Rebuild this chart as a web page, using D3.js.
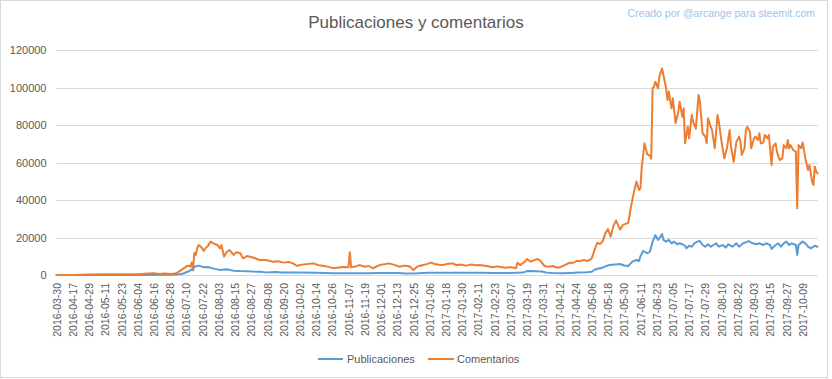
<!DOCTYPE html>
<html><head><meta charset="utf-8">
<script src="https://cdn.jsdelivr.net/npm/d3@7"></script>
<style>
body{margin:0;background:#fff;}
svg{display:block;font-family:"Liberation Sans",Arial,sans-serif;}
</style></head>
<body><svg id="c" width="832" height="379"></svg>
<script>
const title = "Publicaciones y comentarios";
const watermark = "Creado por @arcange para steemit.com";
const seriesNames = ["Publicaciones", "Comentarios"];
const yTicks = [0, 20000, 40000, 60000, 80000, 100000, 120000];
const tickLabels = ["2016-03-30","2016-04-17","2016-04-29","2016-05-11","2016-05-23","2016-06-04","2016-06-16","2016-06-28","2016-07-10","2016-07-22","2016-08-03","2016-08-15","2016-08-27","2016-09-08","2016-09-20","2016-10-02","2016-10-14","2016-10-26","2016-11-07","2016-11-19","2016-12-01","2016-12-13","2016-12-25","2017-01-06","2017-01-18","2017-01-30","2017-02-11","2017-02-23","2017-03-07","2017-03-19","2017-03-31","2017-04-12","2017-04-24","2017-05-06","2017-05-18","2017-05-30","2017-06-11","2017-06-23","2017-07-05","2017-07-17","2017-07-29","2017-08-10","2017-08-22","2017-09-03","2017-09-15","2017-09-27","2017-10-09"];

const publicaciones = [
["2016-03-30",0],["2016-04-17",0],["2016-05-11",30],["2016-06-04",60],["2016-06-28",150],["2016-07-03",200],["2016-07-06",500],["2016-07-08",800],["2016-07-10",1500],["2016-07-12",2000],["2016-07-14",3000],["2016-07-15",2500],["2016-07-16",4400],["2016-07-19",5000],["2016-07-21",4600],["2016-07-23",4100],["2016-07-26",4300],["2016-07-30",3400],["2016-08-02",3000],["2016-08-04",2700],["2016-08-09",3100],["2016-08-12",2600],["2016-08-14",2300],["2016-08-19",2100],["2016-08-24",2000],["2016-08-29",1800],["2016-09-03",1700],["2016-09-07",1400],["2016-09-14",1600],["2016-09-19",1300],["2016-10-02",1300],["2016-10-14",1200],["2016-10-27",900],["2016-11-07",1000],["2016-11-20",900],["2016-12-01",1100],["2016-12-13",1100],["2016-12-20",800],["2016-12-28",900],["2017-01-06",1200],["2017-01-18",1200],["2017-01-30",1200],["2017-02-11",1200],["2017-02-23",1100],["2017-03-07",1100],["2017-03-16",1300],["2017-03-19",2100],["2017-03-26",2000],["2017-03-30",1900],["2017-04-02",1300],["2017-04-08",1000],["2017-04-14",900],["2017-04-20",1100],["2017-04-26",1300],["2017-05-02",1500],["2017-05-06",1700],["2017-05-08",2800],["2017-05-11",3500],["2017-05-14",3900],["2017-05-16",4600],["2017-05-19",5300],["2017-05-23",5600],["2017-05-27",5900],["2017-05-30",5100],["2017-06-02",4800],["2017-06-05",7100],["2017-06-08",8000],["2017-06-10",7500],["2017-06-11",10000],["2017-06-13",12800],["2017-06-16",11600],["2017-06-18",12400],["2017-06-20",17800],["2017-06-22",21300],["2017-06-24",18700],["2017-06-25",19600],["2017-06-27",21900],["2017-06-28",18700],["2017-06-30",17800],["2017-07-02",18700],["2017-07-04",16900],["2017-07-06",17800],["2017-07-08",16400],["2017-07-10",16900],["2017-07-12",16400],["2017-07-14",15600],["2017-07-15",14200],["2017-07-17",15600],["2017-07-19",15100],["2017-07-21",16900],["2017-07-23",17800],["2017-07-25",18100],["2017-07-27",16000],["2017-07-29",15100],["2017-07-31",16400],["2017-08-02",15100],["2017-08-04",16000],["2017-08-06",16900],["2017-08-08",15100],["2017-08-11",16000],["2017-08-13",14600],["2017-08-15",16400],["2017-08-18",15100],["2017-08-21",16900],["2017-08-23",15100],["2017-08-26",16900],["2017-08-28",17400],["2017-08-30",18100],["2017-09-02",16900],["2017-09-05",16400],["2017-09-07",16900],["2017-09-10",16000],["2017-09-12",16900],["2017-09-15",16000],["2017-09-16",13900],["2017-09-19",16000],["2017-09-21",16900],["2017-09-23",15100],["2017-09-25",16900],["2017-09-27",17800],["2017-09-29",16000],["2017-10-01",16900],["2017-10-04",16000],["2017-10-05",10700],["2017-10-06",16000],["2017-10-09",17800],["2017-10-11",16900],["2017-10-13",15100],["2017-10-15",14200],["2017-10-18",15600],["2017-10-20",15100]
];

const comentarios = [
["2016-03-30",0],["2016-04-17",50],["2016-04-29",300],["2016-05-11",400],["2016-05-23",450],["2016-06-04",450],["2016-06-12",800],["2016-06-16",1000],["2016-06-20",600],["2016-06-24",800],["2016-06-28",500],["2016-07-02",800],["2016-07-04",1500],["2016-07-06",2500],["2016-07-08",3500],["2016-07-10",4500],["2016-07-11",5000],["2016-07-13",4500],["2016-07-14",6600],["2016-07-15",3500],["2016-07-16",11700],["2016-07-17",10700],["2016-07-18",14000],["2016-07-19",16000],["2016-07-21",15000],["2016-07-23",12800],["2016-07-24",14200],["2016-07-26",15500],["2016-07-28",17800],["2016-07-30",16900],["2016-08-02",16000],["2016-08-04",14200],["2016-08-05",16000],["2016-08-07",9800],["2016-08-09",12400],["2016-08-11",13300],["2016-08-14",10700],["2016-08-16",12100],["2016-08-19",11600],["2016-08-21",8900],["2016-08-24",10100],["2016-08-29",9200],["2016-09-02",8000],["2016-09-07",8000],["2016-09-12",7100],["2016-09-16",7300],["2016-09-20",6600],["2016-09-24",6900],["2016-09-27",6200],["2016-09-30",4800],["2016-10-02",5300],["2016-10-07",5800],["2016-10-12",6200],["2016-10-16",5200],["2016-10-20",4800],["2016-10-24",4200],["2016-10-27",3600],["2016-11-01",4100],["2016-11-04",4300],["2016-11-07",4100],["2016-11-08",12100],["2016-11-09",4100],["2016-11-12",4500],["2016-11-15",5300],["2016-11-19",4400],["2016-11-22",4800],["2016-11-25",3600],["2016-11-30",5300],["2016-12-04",5800],["2016-12-07",6200],["2016-12-11",5400],["2016-12-15",4400],["2016-12-18",5000],["2016-12-21",4800],["2016-12-23",4200],["2016-12-25",2700],["2016-12-28",4500],["2017-01-01",5300],["2017-01-04",5800],["2017-01-07",6600],["2017-01-10",5900],["2017-01-13",5500],["2017-01-16",5300],["2017-01-19",5900],["2017-01-23",6200],["2017-01-26",5200],["2017-01-29",5600],["2017-02-02",5000],["2017-02-06",5600],["2017-02-09",5200],["2017-02-12",5300],["2017-02-16",4900],["2017-02-19",4500],["2017-02-22",4100],["2017-02-25",4600],["2017-02-28",4300],["2017-03-03",3900],["2017-03-07",4200],["2017-03-11",3600],["2017-03-12",6600],["2017-03-14",5300],["2017-03-17",6800],["2017-03-19",8500],["2017-03-22",7100],["2017-03-24",7800],["2017-03-27",8500],["2017-03-29",7500],["2017-04-01",4800],["2017-04-04",4400],["2017-04-07",4800],["2017-04-11",3900],["2017-04-13",4300],["2017-04-16",5300],["2017-04-18",6000],["2017-04-20",6600],["2017-04-22",6400],["2017-04-25",7600],["2017-04-27",7300],["2017-04-30",8000],["2017-05-03",7500],["2017-05-06",8900],["2017-05-08",13300],["2017-05-10",17200],["2017-05-12",16500],["2017-05-14",17800],["2017-05-16",22200],["2017-05-18",24500],["2017-05-20",20400],["2017-05-22",26200],["2017-05-24",29000],["2017-05-27",24200],["2017-05-29",26700],["2017-06-02",27800],["2017-06-04",36400],["2017-06-06",43600],["2017-06-08",49800],["2017-06-10",45300],["2017-06-11",46200],["2017-06-12",57800],["2017-06-14",70200],["2017-06-16",64500],["2017-06-18",63500],["2017-06-19",62000],["2017-06-20",99600],["2017-06-21",100400],["2017-06-22",103100],["2017-06-24",99600],["2017-06-25",105800],["2017-06-27",110200],["2017-06-28",106700],["2017-06-30",99600],["2017-07-01",93300],["2017-07-02",97800],["2017-07-04",88900],["2017-07-05",94200],["2017-07-07",80900],["2017-07-09",87100],["2017-07-10",92400],["2017-07-12",84400],["2017-07-13",88900],["2017-07-14",70200],["2017-07-16",79100],["2017-07-17",72900],["2017-07-19",85300],["2017-07-20",81800],["2017-07-22",78000],["2017-07-24",96000],["2017-07-25",92400],["2017-07-27",75600],["2017-07-29",73800],["2017-07-30",70200],["2017-07-31",83600],["2017-08-02",79100],["2017-08-03",77300],["2017-08-05",67600],["2017-08-07",85300],["2017-08-08",81800],["2017-08-10",71100],["2017-08-12",62200],["2017-08-14",67600],["2017-08-16",77300],["2017-08-17",68400],["2017-08-19",60400],["2017-08-21",71100],["2017-08-23",73800],["2017-08-24",71100],["2017-08-25",64000],["2017-08-27",67600],["2017-08-28",77300],["2017-08-29",79100],["2017-08-31",76400],["2017-09-01",67600],["2017-09-03",72900],["2017-09-04",73800],["2017-09-06",72000],["2017-09-07",75600],["2017-09-08",70200],["2017-09-10",70700],["2017-09-11",74700],["2017-09-13",72900],["2017-09-14",74700],["2017-09-16",58700],["2017-09-17",68400],["2017-09-19",70200],["2017-09-20",65800],["2017-09-22",61300],["2017-09-24",62200],["2017-09-25",69300],["2017-09-27",67600],["2017-09-28",72000],["2017-09-29",67600],["2017-09-30",69300],["2017-10-02",66700],["2017-10-04",65800],["2017-10-05",35600],["2017-10-06",69300],["2017-10-08",67600],["2017-10-09",70700],["2017-10-10",66700],["2017-10-11",62200],["2017-10-13",56000],["2017-10-14",58700],["2017-10-16",49800],["2017-10-17",48000],["2017-10-18",57800],["2017-10-19",55100],["2017-10-20",54200]
];

(function () {
// category axis: one category per data day (the source skips a few days in early April 2016)
const fmt = d3.timeFormat("%Y-%m-%d");
const categories = ["2016-03-30"].concat(
  d3.timeDay.range(new Date(2016, 3, 6), new Date(2017, 9, 21)).map(fmt));

const colors = ["#5B9BD5", "#ED7D31"];
const textColor = "#595959";
const gridColor = "#D9D9D9";

const svg = d3.select("#c");
const mLeft = 56.5, mRight = 817.5, mTop = 50, mBottom = 275;

svg.append("rect").attr("x", 0.5).attr("y", 0.5).attr("width", 827).attr("height", 377)
  .attr("fill", "#fff").attr("stroke", gridColor);

const x = d3.scalePoint().domain(categories).range([mLeft, mRight]);
const y = d3.scaleLinear().domain([0, 120000]).range([mBottom, mTop]);

// gridlines
svg.append("g").selectAll("line").data(yTicks).join("line")
  .attr("x1", mLeft).attr("x2", mRight + 0.5)
  .attr("y1", d => Math.round(y(d)) + 0.5).attr("y2", d => Math.round(y(d)) + 0.5)
  .attr("stroke", gridColor).attr("stroke-width", 1);

// y axis
const yAxis = svg.append("g").attr("transform", `translate(${mLeft - 10},0)`)
  .call(d3.axisLeft(y).tickValues(yTicks).tickFormat(d3.format("d")).tickSize(0).tickPadding(0));
yAxis.select(".domain").remove();
yAxis.selectAll("text").attr("fill", textColor).style("font-size", "11px")
  .style("font-family", "'Liberation Sans',Arial,sans-serif");

// x axis
const xAxis = svg.append("g").attr("transform", `translate(0,${mBottom})`)
  .call(d3.axisBottom(x).tickValues(tickLabels).tickSize(0));
xAxis.select(".domain").remove();
xAxis.selectAll("text")
  .attr("transform", "rotate(-90)")
  .attr("x", -8).attr("y", 0).attr("dy", "0.35em")
  .style("text-anchor", "end")
  .attr("fill", textColor).style("font-size", "10.5px")
  .style("font-family", "'Liberation Sans',Arial,sans-serif");

// lines
const line = d3.line().x(d => x(d[0])).y(d => y(d[1]));
[publicaciones, comentarios].forEach((s, i) => {
  svg.append("path").datum(s).attr("d", line)
    .attr("fill", "none").attr("stroke", colors[i]).attr("stroke-width", 2)
    .attr("stroke-linejoin", "round").attr("stroke-linecap", "round");
});

// title
svg.append("text").attr("x", 416).attr("y", 28).attr("text-anchor", "middle")
  .attr("fill", textColor).style("font-size", "17px").text(title);

// watermark
svg.append("text").attr("x", 815).attr("y", 17).attr("text-anchor", "end")
  .attr("fill", "#9DC3E6").style("font-size", "10.5px").text(watermark);

// legend
const legend = [{x1: 318, x2: 343, tx: 347}, {x1: 428, x2: 454, tx: 457}];
legend.forEach((l, i) => {
  svg.append("line").attr("x1", l.x1).attr("x2", l.x2).attr("y1", 359).attr("y2", 359)
    .attr("stroke", colors[i]).attr("stroke-width", 2);
  svg.append("text").attr("x", l.tx).attr("y", 363).attr("fill", textColor)
    .style("font-size", "11px").text(seriesNames[i]);
});
})();
</script>
</body></html>
